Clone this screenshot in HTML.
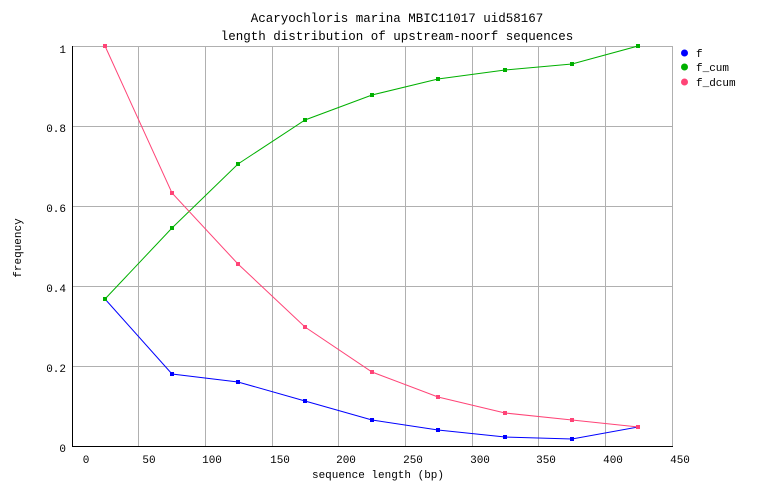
<!DOCTYPE html>
<html><head><style>body{margin:0;background:#fff}</style></head><body>
<svg width="762" height="498" xmlns="http://www.w3.org/2000/svg" font-family="Liberation Mono, DejaVu Sans Mono, monospace" font-size="11">
<rect width="762" height="498" fill="#fff"/>
<g stroke="#b0b0b0" stroke-width="1">
<line x1="138.5" y1="46" x2="138.5" y2="446"/><line x1="205.5" y1="46" x2="205.5" y2="446"/>
<line x1="272.5" y1="46" x2="272.5" y2="446"/><line x1="338.5" y1="46" x2="338.5" y2="446"/>
<line x1="405.5" y1="46" x2="405.5" y2="446"/><line x1="472.5" y1="46" x2="472.5" y2="446"/>
<line x1="538.5" y1="46" x2="538.5" y2="446"/><line x1="605.5" y1="46" x2="605.5" y2="446"/>
<line x1="672.5" y1="46" x2="672.5" y2="446"/>
<line x1="72" y1="46.5" x2="672" y2="46.5"/><line x1="72" y1="126.5" x2="672" y2="126.5"/>
<line x1="72" y1="206.5" x2="672" y2="206.5"/><line x1="72" y1="286.5" x2="672" y2="286.5"/>
<line x1="72" y1="366.5" x2="672" y2="366.5"/>
</g>
<line x1="72.5" y1="46" x2="72.5" y2="447" stroke="#000"/>
<line x1="72" y1="446.5" x2="673" y2="446.5" stroke="#000"/>
<g text-anchor="end"><text x="66" y="53">1</text><text x="66" y="132">0.8</text><text x="66" y="212">0.6</text><text x="66" y="292">0.4</text><text x="66" y="372">0.2</text><text x="66" y="452">0</text></g>
<g text-anchor="middle"><text x="86" y="463">0</text><text x="149" y="463">50</text><text x="212" y="463">100</text><text x="280" y="463">150</text><text x="346" y="463">200</text><text x="413" y="463">250</text><text x="480" y="463">300</text><text x="546" y="463">350</text><text x="613" y="463">400</text><text x="680" y="463">450</text>
<text x="378" y="478">sequence length (bp)</text>
<text x="397" y="22" font-size="12.5">Acaryochloris marina MBIC11017 uid58167</text>
<text x="397" y="40" font-size="12.5">length distribution of upstream-noorf sequences</text>
<text transform="translate(21,248) rotate(-90)">frequency</text></g>
<polyline fill="none" stroke="#0000ff" points="105,299 172,374 238,382 305,401 372,420 438,430 505,437 572,439 638,427"/>
<polyline fill="none" stroke="#00b000" points="105,299 172,228 238,164 305,120 372,95 438,79 505,70 572,64 638,46"/>
<polyline fill="none" stroke="#ff4477" points="105,46 172,193 238,264 305,327 372,372 438,397 505,413 572,420 638,427"/>
<g fill="#0000ff"><rect x="103" y="297" width="4" height="4"/><rect x="170" y="372" width="4" height="4"/><rect x="236" y="380" width="4" height="4"/><rect x="303" y="399" width="4" height="4"/><rect x="370" y="418" width="4" height="4"/><rect x="436" y="428" width="4" height="4"/><rect x="503" y="435" width="4" height="4"/><rect x="570" y="437" width="4" height="4"/></g>
<g fill="#00b000"><rect x="103" y="297" width="4" height="4"/><rect x="170" y="226" width="4" height="4"/><rect x="236" y="162" width="4" height="4"/><rect x="303" y="118" width="4" height="4"/><rect x="370" y="93" width="4" height="4"/><rect x="436" y="77" width="4" height="4"/><rect x="503" y="68" width="4" height="4"/><rect x="570" y="62" width="4" height="4"/><rect x="636" y="44" width="4" height="4"/></g>
<g fill="#ff4477"><rect x="103" y="44" width="4" height="4"/><rect x="170" y="191" width="4" height="4"/><rect x="236" y="262" width="4" height="4"/><rect x="303" y="325" width="4" height="4"/><rect x="370" y="370" width="4" height="4"/><rect x="436" y="395" width="4" height="4"/><rect x="503" y="411" width="4" height="4"/><rect x="570" y="418" width="4" height="4"/><rect x="636" y="425" width="4" height="4"/></g>
<circle cx="684.5" cy="53" r="3.5" fill="#0000ff"/><text x="696" y="57">f</text>
<circle cx="684.5" cy="67" r="3.5" fill="#00b000"/><text x="696" y="71">f_cum</text>
<circle cx="684.5" cy="82" r="3.5" fill="#ff4477"/><text x="696" y="86">f_dcum</text>
</svg>
</body></html>
